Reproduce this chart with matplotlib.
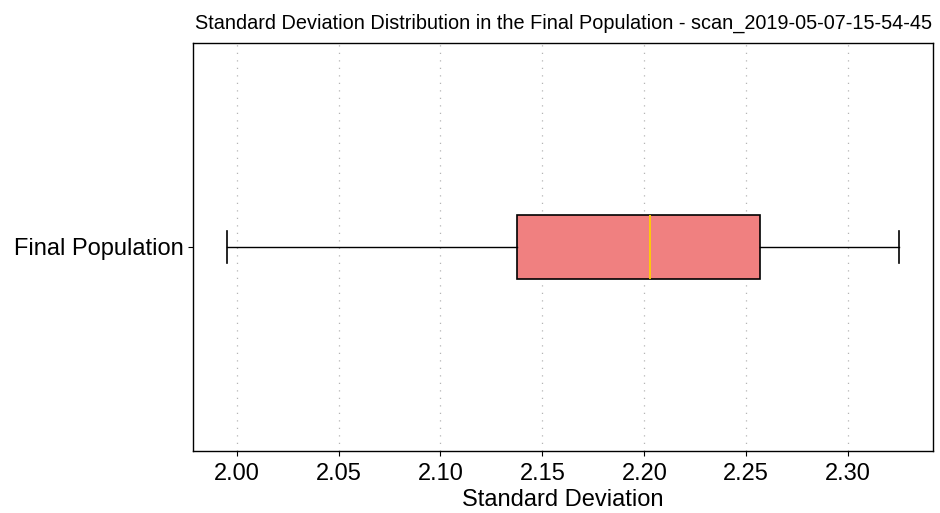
import matplotlib
matplotlib.use("Agg")
import matplotlib.pyplot as plt
from matplotlib import font_manager

# Data (box statistics)
category = ["Final Population"]
whislo = [1.9951]
q1 = [2.1376]
med = [2.2030]
q3 = [2.2569]
whishi = [2.3251]
xticks = [2.00, 2.05, 2.10, 2.15, 2.20, 2.25, 2.30]

names = {f.name for f in font_manager.fontManager.ttflist}
base = "Liberation Sans" if "Liberation Sans" in names else "DejaVu Sans"
narrow = "Liberation Sans Narrow" if "Liberation Sans Narrow" in names else base
plt.rcParams['font.family'] = [base, 'DejaVu Sans']

fig = plt.figure(figsize=(9.4, 5.13), dpi=100)
ax = fig.add_axes([0.2053, 0.1209, 0.7873, 0.7953])

stats = []
for i, c in enumerate(category):
    stats.append(dict(label=c, whislo=whislo[i], q1=q1[i], med=med[i],
                      q3=q3[i], whishi=whishi[i], fliers=[]))

bp = ax.bxp(stats, vert=False, patch_artist=True, widths=0.157,
            showfliers=False,
            boxprops=dict(facecolor='#F08080', edgecolor='black', linewidth=1.2),
            medianprops=dict(color='#FFD000', linewidth=1.3),
            whiskerprops=dict(color='black', linewidth=1.0),
            capprops=dict(color='black', linewidth=1.2))

ax.set_ylim(0.5, 1.5)
ax.set_xticks(xticks)
ax.set_xticklabels([f"{t:.2f}" for t in xticks])
ax.tick_params(axis='both', labelsize=17)
ax.tick_params(axis='x', pad=5)
ax.set_xlabel("Standard Deviation", fontsize=17, labelpad=3)
ax.grid(axis='x', linestyle=(0, (1, 5)), color='#b5b5b5', linewidth=0.9)
ax.set_axisbelow(True)
for s in ax.spines.values():
    s.set_color('black')
    s.set_linewidth(1.0)

ax.set_title("Standard Deviation Distribution in the Final Population - scan_2019-05-07-15-54-45",
             fontsize=14.3, family=[narrow, 'DejaVu Sans'], pad=10)

fig.savefig("out.png", dpi=100)
